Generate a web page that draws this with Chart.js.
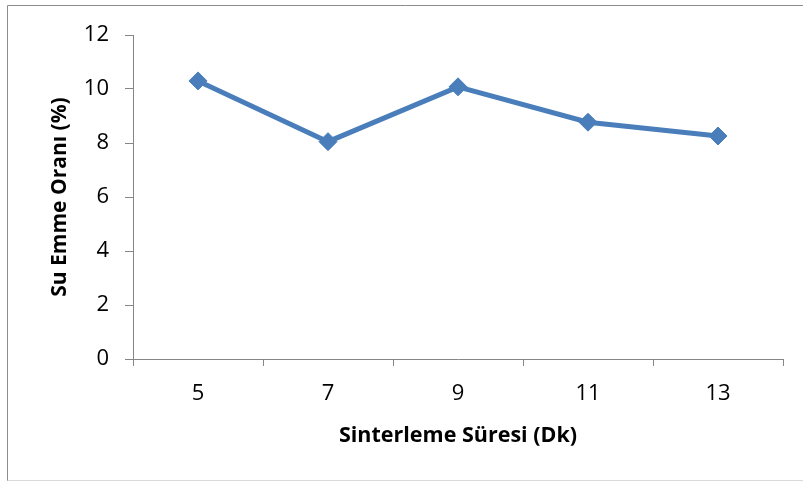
<!DOCTYPE html>
<html>
<head>
<meta charset="utf-8">
<script src="https://cdn.jsdelivr.net/npm/chart.js@4/dist/chart.umd.min.js"></script>
<style>
  html, body { margin: 0; padding: 0; background: #ffffff; }
  #wrap { position: relative; width: 803px; height: 482px; }
</style>
</head>
<body>
<div id="wrap"><canvas id="chart" width="803" height="482"></canvas></div>
<script>
// Sintering time (minutes) and water absorption (%)
const sureler = ['5', '7', '9', '11', '13'];
const suEmme = [10.3, 8.05, 10.08, 8.77, 8.26];
const yTicks = [0, 2, 4, 6, 8, 10, 12];

const axisGray = '#868686';
const seriesBlue = '#4A7EBB';

// Outer frame around the whole chart
const framePlugin = {
  id: 'frame',
  beforeDraw(chart) {
    const ctx = chart.ctx;
    ctx.save();
    ctx.strokeStyle = '#8c8c8c';
    ctx.lineWidth = 1;
    ctx.beginPath();
    ctx.moveTo(7.5, 481);
    ctx.lineTo(7.5, 5.5);
    ctx.lineTo(803, 5.5);
    ctx.stroke();
    ctx.strokeStyle = '#d9d9d9';
    ctx.beginPath();
    ctx.moveTo(7.5, 480.5);
    ctx.lineTo(803, 480.5);
    ctx.stroke();
    ctx.restore();
  }
};

new Chart(document.getElementById('chart'), {
  type: 'line',
  data: {
    labels: sureler,
    datasets: [{
      data: suEmme,
      borderColor: seriesBlue,
      backgroundColor: seriesBlue,
      borderWidth: 5,
      pointStyle: 'rectRot',
      pointRadius: 9,
      pointHoverRadius: 9,
      pointBorderWidth: 1,
      pointBorderColor: seriesBlue,
      pointBackgroundColor: seriesBlue,
      tension: 0,
      fill: false
    }]
  },
  options: {
    responsive: false,
    animation: false,
    devicePixelRatio: 1,
    layout: { padding: { left: 0, right: 20, top: 35, bottom: 0 } },
    plugins: {
      legend: { display: false },
      tooltip: { enabled: false }
    },
    scales: {
      x: {
        type: 'category',
        offset: true,
        afterFit(scale) { scale.height = 123; },
        grid: {
          offset: true,
          drawOnChartArea: false,
          drawTicks: true,
          tickLength: 7,
          color: axisGray,
          lineWidth: 1
        },
        border: { display: true, color: axisGray, width: 1 },
        ticks: {
          color: '#000000',
          font: { family: 'Open Sans', size: 22 },
          padding: 15,
          maxRotation: 0
        },
        title: {
          display: true,
          text: 'Sinterleme Süresi (Dk)',
          color: '#000000',
          font: { family: 'Open Sans', size: 21.5, weight: 'bold', lineHeight: 1.2 },
          padding: { top: 0, bottom: 33 }
        }
      },
      y: {
        min: 0,
        max: 12,
        afterFit(scale) { scale.width = 133; },
        afterBuildTicks(scale) { scale.ticks = yTicks.map(v => ({ value: v })); },
        grid: {
          drawOnChartArea: false,
          drawTicks: true,
          tickLength: 8,
          color: axisGray,
          lineWidth: 1
        },
        border: { display: true, color: axisGray, width: 1 },
        ticks: {
          color: '#000000',
          font: { family: 'Open Sans', size: 22 },
          padding: 16
        },
        title: {
          display: true,
          text: 'Su Emme Oranı (%)',
          color: '#000000',
          font: { family: 'Open Sans', size: 21, weight: 'bold', lineHeight: 1.2 },
          padding: { top: 47, bottom: 0 }
        }
      }
    }
  },
  plugins: [framePlugin]
});
</script>
</body>
</html>
